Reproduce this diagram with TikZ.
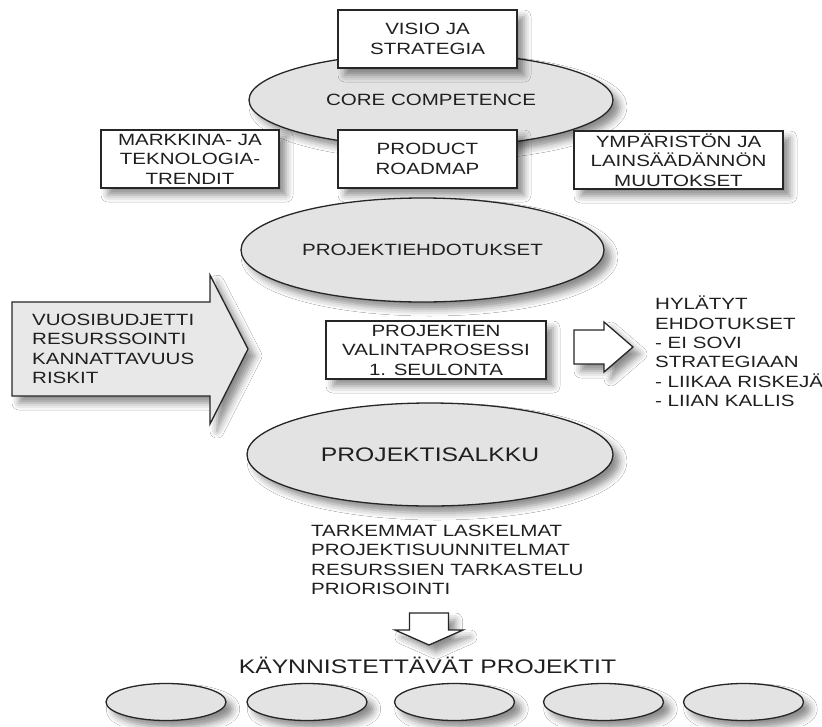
\documentclass[tikz,border=0pt]{standalone}
\usepackage{fontspec}
\setmainfont{Liberation Sans}[FakeStretch=1.26]
\usetikzlibrary{shapes.geometric,shadows.blur}

\tikzset{
  every node/.style={font=\fontsize{16.3}{19.4}\selectfont, text=black!88},
  bigtext/.style={font=\fontsize{19.6}{23}\selectfont},
  outline/.style={draw=black!85, line width=1.3pt},
  soft/.style={blur shadow={shadow xshift=7pt, shadow yshift=-7pt, shadow blur radius=7pt, shadow opacity=45}},
  textbox/.style={outline, soft, fill=white, rectangle, inner sep=0pt, align=center, minimum height=58pt},
  oval/.style={outline, soft, fill=black!11, ellipse, inner sep=0pt, align=center},
  blockarrow/.style={outline, soft, line join=miter},
  plain/.style={inner sep=0pt, align=left},
}

\begin{document}
\begin{tikzpicture}[x=1pt,y=-1pt]
\useasboundingbox (0,0) rectangle (822,726);
\fill[white] (0,0) rectangle (822,726);

% strategy layer
\node[oval, minimum width=364pt, minimum height=94pt] (core) at (431,100) {CORE COMPETENCE};
\node[textbox, minimum width=179pt] (visio) at (427.5,39) {VISIO JA\\STRATEGIA};
\node[textbox, minimum width=178pt] (trend) at (190,159) {MARKKINA- JA\\TEKNOLOGIA-\\TRENDIT};
\node[textbox, minimum width=179pt] (roadmap) at (427.5,159) {PRODUCT\\ROADMAP};
\node[textbox, minimum width=209pt] (laws) at (678.5,160) {YMPÄRISTÖN JA\\LAINSÄÄDÄNNÖN\\MUUTOKSET};

% proposals
\node[oval, minimum width=363pt, minimum height=104pt] (ideas) at (422.5,250) {PROJEKTIEHDOTUKSET};

% constraints feeding the selection
\path[blockarrow, fill=black!9] (12,302) -- (210,302) -- (210,275) -- (248,349)
  -- (210,424) -- (210,396) -- (12,396) -- cycle;
\node[plain, anchor=west] (budget) at (32,349) {VUOSIBUDJETTI\\RESURSSOINTI\\KANNATTAVUUS\\RISKIT};

% first screening
\node[textbox, minimum width=220pt] (select) at (436,350) {PROJEKTIEN\\VALINTAPROSESSI\\1. SEULONTA};
\path[blockarrow, fill=white] (574,330) -- (604,330) -- (604,322) -- (633,347)
  -- (604,372) -- (604,364) -- (574,364) -- cycle;
\node[plain, anchor=west] (rejected) at (655,351.5) {HYLÄTYT\\EHDOTUKSET\\- EI SOVI\\STRATEGIAAN\\- LIIKAA RISKEJÄ\\- LIIAN KALLIS};

% portfolio
\node[oval, bigtext, minimum width=366pt, minimum height=103pt] (portfolio) at (430,454.5) {PROJEKTISALKKU};
\node[plain, anchor=west] (steps) at (311,560) {TARKEMMAT LASKELMAT\\PROJEKTISUUNNITELMAT\\RESURSSIEN TARKASTELU\\PRIORISOINTI};

\path[blockarrow, fill=white] (409.5,613) -- (448.5,613) -- (448.5,630) -- (463,630)
  -- (429,645) -- (395,630) -- (409.5,630) -- cycle;

% projects to launch
\node[bigtext] (launch) at (427.5,665) {KÄYNNISTETTÄVÄT PROJEKTIT};
\foreach \i/\x in {1/166,2/307,3/454.5,4/603.5,5/743.5}
  \node[oval, minimum width=120pt, minimum height=37pt] (p\i) at (\x,702) {};
\end{tikzpicture}
\end{document}
